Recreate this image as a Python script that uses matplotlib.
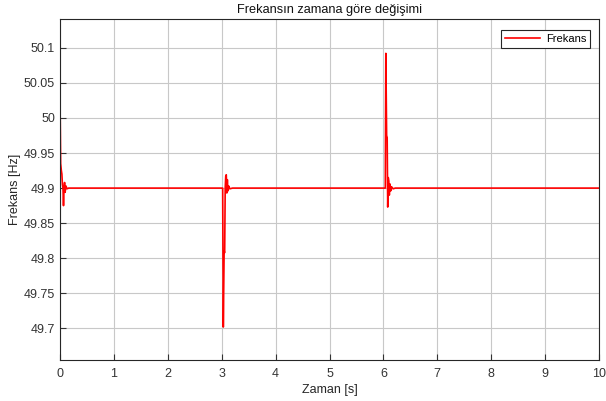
import matplotlib.pyplot as plt

plt.rcParams['font.family'] = ['Liberation Sans', 'DejaVu Sans']

# frequency response samples (time in s, frequency in Hz)
zaman = [0.0, 0.004, 0.012, 0.025, 0.035, 0.045, 0.055, 0.065, 0.075, 0.085,
         0.095, 0.11, 0.13, 0.16,
         3.0, 3.018, 3.03, 3.045, 3.055, 3.065, 3.075, 3.085, 3.095, 3.105,
         3.115, 3.13, 3.15, 3.2,
         6.0, 6.035, 6.045, 6.06, 6.07, 6.08, 6.09, 6.1, 6.11, 6.12,
         6.135, 6.15, 6.18, 6.22, 10.0]
frekans = [50.0, 50.0, 49.935, 49.925, 49.92, 49.905, 49.9, 49.875, 49.9, 49.908,
           49.894, 49.903, 49.899, 49.9,
           49.9, 49.9, 49.702, 49.81, 49.808, 49.9, 49.917, 49.919, 49.893, 49.912,
           49.896, 49.903, 49.899, 49.9,
           49.9, 49.9, 50.092, 49.975, 49.972, 49.873, 49.915, 49.91, 49.89, 49.906,
           49.896, 49.902, 49.899, 49.9, 49.9]

fig, ax = plt.subplots(figsize=(6.06, 4.01), dpi=100)
fig.subplots_adjust(left=60/606, right=599/606, top=1-19/401, bottom=1-360/401)

ax.plot(zaman, frekans, color='red', lw=1.2, label='Frekans')

ax.set_xlim(0, 10)
ax.set_ylim(49.655, 50.141)
ax.set_xticks(range(0, 11))
ax.set_yticks([49.7, 49.75, 49.8, 49.85, 49.9, 49.95, 50.0, 50.05, 50.1])
ax.set_yticklabels(['49.7', '49.75', '49.8', '49.85', '49.9', '49.95', '50', '50.05', '50.1'])

ax.grid(True, color='#c8c8c8', lw=0.8)
ax.set_axisbelow(True)
ax.tick_params(direction='in', labelsize=9, colors='#333333', length=4)
ax.tick_params(axis='x', pad=6)
for s in ax.spines.values():
    s.set_color('#262626')
    s.set_linewidth(0.8)

ax.set_title('Frekansın zamana göre değişimi', fontsize=9.2, color='#111111', pad=4)
ax.set_xlabel('Zaman [s]', fontsize=9, color='#262626', labelpad=3)
ax.set_ylabel('Frekans [Hz]', fontsize=9, color='#262626', labelpad=2)

leg = ax.legend(loc='upper right', bbox_to_anchor=(590/606, 1-30/401),
                bbox_transform=fig.transFigure, borderaxespad=0,
                fontsize=8, fancybox=False, framealpha=1,
                edgecolor='#262626', handlelength=3.2, handletextpad=0.5,
                borderpad=0.35)
leg.get_frame().set_linewidth(0.8)

fig.savefig('out.png', dpi=100)
